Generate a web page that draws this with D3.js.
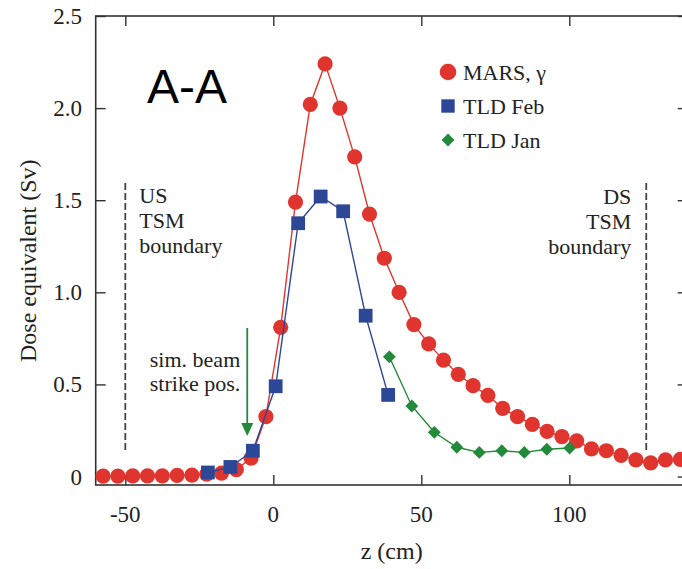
<!DOCTYPE html>
<html>
<head>
<meta charset="utf-8">
<script src="https://cdn.jsdelivr.net/npm/d3@7/dist/d3.min.js"></script>
<style>
  html, body { margin: 0; padding: 0; background: #fff; }
  svg { display: block; }
</style>
</head>
<body>
<svg id="chart" width="682" height="569"></svg>
<script>
// Dose equivalent along the beam line, MARS simulation vs TLD measurements
const marsZ = [-57.5, -52.5, -47.5, -42.5, -37.5, -32.5, -27.5, -22.5, -17.5, -12.5,
               -7.5, -2.5, 2.5, 7.5, 12.5, 17.5, 22.5, 27.5, 32.5, 37.5,
               42.5, 47.5, 52.5, 57.5, 62.5, 67.5, 72.5, 77.5, 82.5, 87.5,
               92.5, 97.5, 102.5, 107.5, 112.5, 117.5, 122.5, 127.5, 132.5, 137.5];
const marsDose = [0.002, 0.002, 0.003, 0.003, 0.004, 0.006, 0.008, 0.013, 0.019, 0.038,
                  0.100, 0.325, 0.810, 1.490, 2.020, 2.240, 2.000, 1.735, 1.425, 1.185,
                  1.000, 0.825, 0.720, 0.632, 0.555, 0.493, 0.440, 0.370, 0.325, 0.283,
                  0.245, 0.217, 0.194, 0.150, 0.140, 0.115, 0.090, 0.074, 0.090, 0.093];

const tldFebZ = [-22.1, -14.5, -6.9, 0.8, 8.4, 16.0, 23.6, 31.2, 38.8];
const tldFebDose = [0.022, 0.052, 0.140, 0.490, 1.375, 1.520, 1.440, 0.873, 0.443];

const tldJanZ = [39.2, 46.8, 54.4, 62.0, 69.6, 77.2, 84.8, 92.4, 100.1];
const tldJanDose = [0.650, 0.383, 0.240, 0.159, 0.131, 0.140, 0.131, 0.148, 0.155];

const xTicks = [-50, 0, 50, 100];
const yTicks = [0, 0.5, 1.0, 1.5, 2.0, 2.5];
const yTickLabels = ["0", "0.5", "1.0", "1.5", "2.0", "2.5"];

const seriesNames = ["MARS, \u03b3", "TLD Feb", "TLD Jan"];
const boundaryZ = [-50, 126];
const beamStrikeZ = -8.8;

const colors = { mars: "#e0352f", feb: "#2d4797", jan: "#23893b", axis: "#333" };
const serif = "'Liberation Serif', Tinos, 'Times New Roman', Times, 'Nimbus Roman', 'DejaVu Serif', serif";

const svg = d3.select("#chart");
const plot = { left: 95.7, right: 687.7, top: 16, bottom: 485 };

const x = d3.scaleLinear().domain([-60, 140]).range([plot.left, plot.right]);
const y = d3.scaleLinear().domain([-0.046, 2.5]).range([plot.bottom, plot.top]);

// Frame with inward ticks on all four sides
const tickLen = 10;
const axisG = svg.append("g");
axisG.append("g").attr("transform", `translate(0,${plot.bottom})`)
  .call(d3.axisTop(x).tickValues(xTicks).tickSize(tickLen).tickFormat(""));
axisG.append("g").attr("transform", `translate(0,${plot.top})`)
  .call(d3.axisBottom(x).tickValues(xTicks).tickSize(tickLen).tickFormat(""));
axisG.append("g").attr("transform", `translate(${plot.left},0)`)
  .call(d3.axisRight(y).tickValues(yTicks).tickSize(tickLen).tickFormat(""));
axisG.append("g").attr("transform", `translate(${plot.right},0)`)
  .call(d3.axisLeft(y).tickValues(yTicks).tickSize(tickLen).tickFormat(""));
axisG.selectAll(".domain").remove();
axisG.selectAll("line").attr("stroke", colors.axis).attr("stroke-width", 1.4);
axisG.append("rect")
  .attr("x", plot.left).attr("y", plot.top)
  .attr("width", plot.right - plot.left).attr("height", plot.bottom - plot.top)
  .attr("fill", "none").attr("stroke", colors.axis).attr("stroke-width", 1.6);

// All serif labels share one group so the family is set once
const labels = svg.append("g").attr("font-family", serif).attr("fill", "#222");

// Tick labels
labels.append("g").selectAll("text").data(xTicks).join("text")
  .attr("x", d => x(d)).attr("y", 522)
  .attr("text-anchor", "middle").attr("font-size", 23)
  .text(d => d);
labels.append("g").selectAll("text").data(yTicks).join("text")
  .attr("x", 82).attr("y", d => y(d)).attr("dy", "0.35em")
  .attr("text-anchor", "end").attr("font-size", 23)
  .text((d, i) => yTickLabels[i]);

// Axis titles
labels.append("text").attr("x", (plot.left + plot.right) / 2).attr("y", 559)
  .attr("text-anchor", "middle").attr("font-size", 24).text("z (cm)");
labels.append("text").attr("transform", "translate(36,362) rotate(-90)")
  .attr("text-anchor", "start").attr("font-size", 24).text("Dose equivalent (Sv)");

// TSM boundaries
svg.append("g").selectAll("line").data(boundaryZ).join("line")
  .attr("x1", d => x(d)).attr("x2", d => x(d))
  .attr("y1", 183).attr("y2", 452)
  .attr("stroke", "#444").attr("stroke-width", 1.8).attr("stroke-dasharray", "7,3");

const usLines = ["US", "TSM", "boundary"];
labels.append("g").selectAll("text").data(usLines).join("text")
  .attr("x", x(boundaryZ[0]) + 14).attr("y", (d, i) => 203 + i * 25)
  .attr("font-size", 22).text(d => d);
const dsLines = ["DS", "TSM", "boundary"];
labels.append("g").selectAll("text").data(dsLines).join("text")
  .attr("x", x(boundaryZ[1]) - 15).attr("y", (d, i) => 204 + i * 25)
  .attr("text-anchor", "end").attr("font-size", 22).text(d => d);

// Simulated beam strike position arrow
const ax = x(beamStrikeZ);
svg.append("line").attr("x1", ax).attr("x2", ax).attr("y1", 328).attr("y2", 426)
  .attr("stroke", colors.jan).attr("stroke-width", 1.8);
svg.append("path")
  .attr("d", `M${ax - 6},${423} L${ax + 6},${423} L${ax},${436} Z`)
  .attr("fill", colors.jan);
const beamLines = ["sim. beam", "strike pos."];
labels.append("g").selectAll("text").data(beamLines).join("text")
  .attr("x", ax - 7).attr("y", (d, i) => 367 + i * 24)
  .attr("text-anchor", "end").attr("font-size", 22).text(d => d);

// Panel tag
svg.append("text").attr("x", 147).attr("y", 103)
  .attr("font-family", "'Liberation Sans', Arimo, Arial, sans-serif")
  .attr("fill", "#000")
  .attr("font-size", 48).text("A-A");

// Series
const line = d3.line().x(d => x(d[0])).y(d => y(d[1]));
const mars = marsZ.map((z, i) => [z, marsDose[i]]);
const feb = tldFebZ.map((z, i) => [z, tldFebDose[i]]);
const jan = tldJanZ.map((z, i) => [z, tldJanDose[i]]);

svg.append("path").datum(mars).attr("d", line)
  .attr("fill", "none").attr("stroke", colors.mars).attr("stroke-width", 1.4);
svg.append("g").selectAll("circle").data(mars).join("circle")
  .attr("cx", d => x(d[0])).attr("cy", d => y(d[1])).attr("r", 7.6)
  .attr("fill", colors.mars);

svg.append("path").datum(feb).attr("d", line)
  .attr("fill", "none").attr("stroke", colors.feb).attr("stroke-width", 1.4);
const squareSym = d3.symbol().type(d3.symbolSquare).size(190);
svg.append("g").selectAll("path").data(feb).join("path")
  .attr("transform", d => `translate(${x(d[0])},${y(d[1])})`)
  .attr("d", squareSym).attr("fill", colors.feb);

svg.append("path").datum(jan).attr("d", line)
  .attr("fill", "none").attr("stroke", colors.jan).attr("stroke-width", 1.4);
const diamondSym = d3.symbol().type(d3.symbolSquare).size(82);
svg.append("g").selectAll("path").data(jan).join("path")
  .attr("transform", d => `translate(${x(d[0])},${y(d[1])}) rotate(45)`)
  .attr("d", diamondSym).attr("fill", colors.jan);

// Legend
const legendY = [72, 106, 140];
const legend = svg.append("g");
legend.append("circle").attr("cx", 448).attr("cy", legendY[0]).attr("r", 8.3).attr("fill", colors.mars);
legend.append("path").attr("transform", `translate(448,${legendY[1]})`)
  .attr("d", d3.symbol().type(d3.symbolSquare).size(180)).attr("fill", colors.feb);
legend.append("path").attr("transform", `translate(448,${legendY[2]}) rotate(45)`)
  .attr("d", d3.symbol().type(d3.symbolSquare).size(82)).attr("fill", colors.jan);
legend.append("g").attr("font-family", serif).attr("fill", "#222")
  .selectAll("text").data(seriesNames).join("text")
  .attr("x", 463).attr("y", (d, i) => legendY[i] + 7.5)
  .attr("font-size", 22).text(d => d);
</script>
</body>
</html>
